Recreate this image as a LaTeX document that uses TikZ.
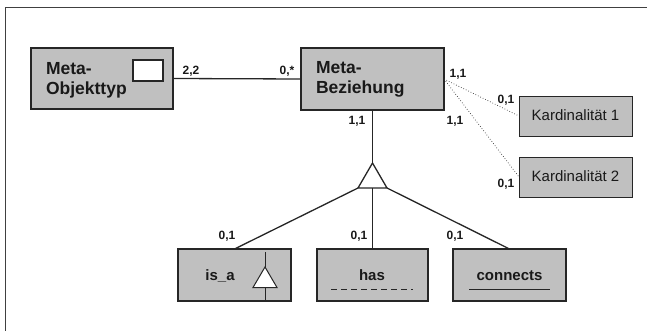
\documentclass[tikz,border=0pt]{standalone}
\usepackage{fontspec}
\setmainfont{Liberation Sans}
\begin{document}
\begin{tikzpicture}[x=1pt,y=-1pt,
  every node/.style={inner sep=0pt,outer sep=0pt},
  box/.style={draw=black!85,line width=1.1pt,fill={rgb,255:red,192;green,192;blue,192},anchor=north west},
  boldtxt/.style={font=\fontsize{17.5}{20}\selectfont\bfseries,text=black!90,anchor=base west,align=left},
  kindtxt/.style={font=\fontsize{15}{18}\selectfont\bfseries,text=black!90,anchor=base},
  cardtxt/.style={font=\fontsize{15}{18}\selectfont,text=black!90,anchor=base},
  card/.style={font=\fontsize{12}{14}\selectfont\bfseries,text=black!90,anchor=base},
  link/.style={draw=black!85,line width=1.3pt},
  thin/.style={draw=black!80,line width=0.7pt,dotted}]
\useasboundingbox (0,0) rectangle (647,331);
% frame
\draw[draw=black!75,line width=1.3pt] (5.5,331) -- (5.5,7.5) -- (647,7.5);

% main boxes
\node[box,minimum width=142pt,minimum height=61pt] (mo) at (31,48) {};
\node[draw=black!85,line width=1.1pt,fill=white,anchor=north west,minimum width=30pt,minimum height=21pt] (mosq) at (133,60) {};
\node[boldtxt] (motx1) at (46,74.5) {Meta-};
\node[boldtxt] (motx2) at (46,94.5) {Objekttyp};

\node[box,minimum width=143pt,minimum height=62pt] (mb) at (301,48) {};
\node[boldtxt] (mbtx1) at (316,74) {Meta-};
\node[boldtxt] (mbtx2) at (316,94) {Beziehung};

% cardinality boxes
\node[box,line width=0.9pt,minimum width=113pt,minimum height=40pt] (k1) at (519,96) {};
\node[cardtxt] (k1tx) at (575.5,121) {Kardinalität 1};
\node[box,line width=0.9pt,minimum width=113pt,minimum height=40pt] (k2) at (519,157) {};
\node[cardtxt] (k2tx) at (575.5,182) {Kardinalität 2};

% kind boxes
\node[box,minimum width=113pt,minimum height=52pt] (isa) at (178,249) {};
\node[kindtxt] (isatx) at (220,280) {is\_a};
\node[box,minimum width=111pt,minimum height=52pt] (has) at (317,249) {};
\node[kindtxt] (hastx) at (372,280) {has};
\node[box,minimum width=113pt,minimum height=52pt] (con) at (453,249) {};
\node[kindtxt] (contx) at (509.5,280) {connects};

% connectors
\draw[link] (mo.east) -- (mb.west);
\draw[thin] (mb.east) -- (k1.west);
\draw[thin] (mb.east) -- (k2.west);

\coordinate (tt) at (372.5,163);
\coordinate (tl) at (358,188);
\coordinate (tr) at (387,188);
\coordinate (tb) at (372.5,188);
\draw[link] (mb.south) -- (tt);
\draw[link,line join=miter] (tt) -- (tl) -- (tr) -- cycle;
\draw[link] (tb) -- (has.north);
\draw[link] (tl) -- (isa.north);
\draw[link] (tr) -- (con.north);

% is_a marker
\coordinate (ma) at (265,252);
\coordinate (mz) at (265,302);
\draw[line width=1pt,draw=black!85] (ma) -- (mz);
\draw[line width=1pt,draw=black!85,fill=white,line join=miter] (265,267) -- (253,287.5) -- (277,287.5) -- cycle;

% underlines
\draw[line width=0.9pt,draw=black!85,dash pattern=on 6pt off 4pt] (331,289) -- (413,289);
\draw[line width=0.9pt,draw=black!85] (469,289) -- (550,289);

% cardinalities
\node[card] (c1) at (191,75) {2,2};
\node[card] (c2) at (287,75) {0,*};
\node[card] (c3) at (458,78) {1,1};
\node[card] (c4) at (506,104) {0,1};
\node[card] (c5) at (455,125) {1,1};
\node[card] (c6) at (506,187) {0,1};
\node[card] (c7) at (357,125) {1,1};
\node[card] (c8) at (227,239) {0,1};
\node[card] (c9) at (359,239) {0,1};
\node[card] (c10) at (455,239) {0,1};
\end{tikzpicture}
\end{document}
